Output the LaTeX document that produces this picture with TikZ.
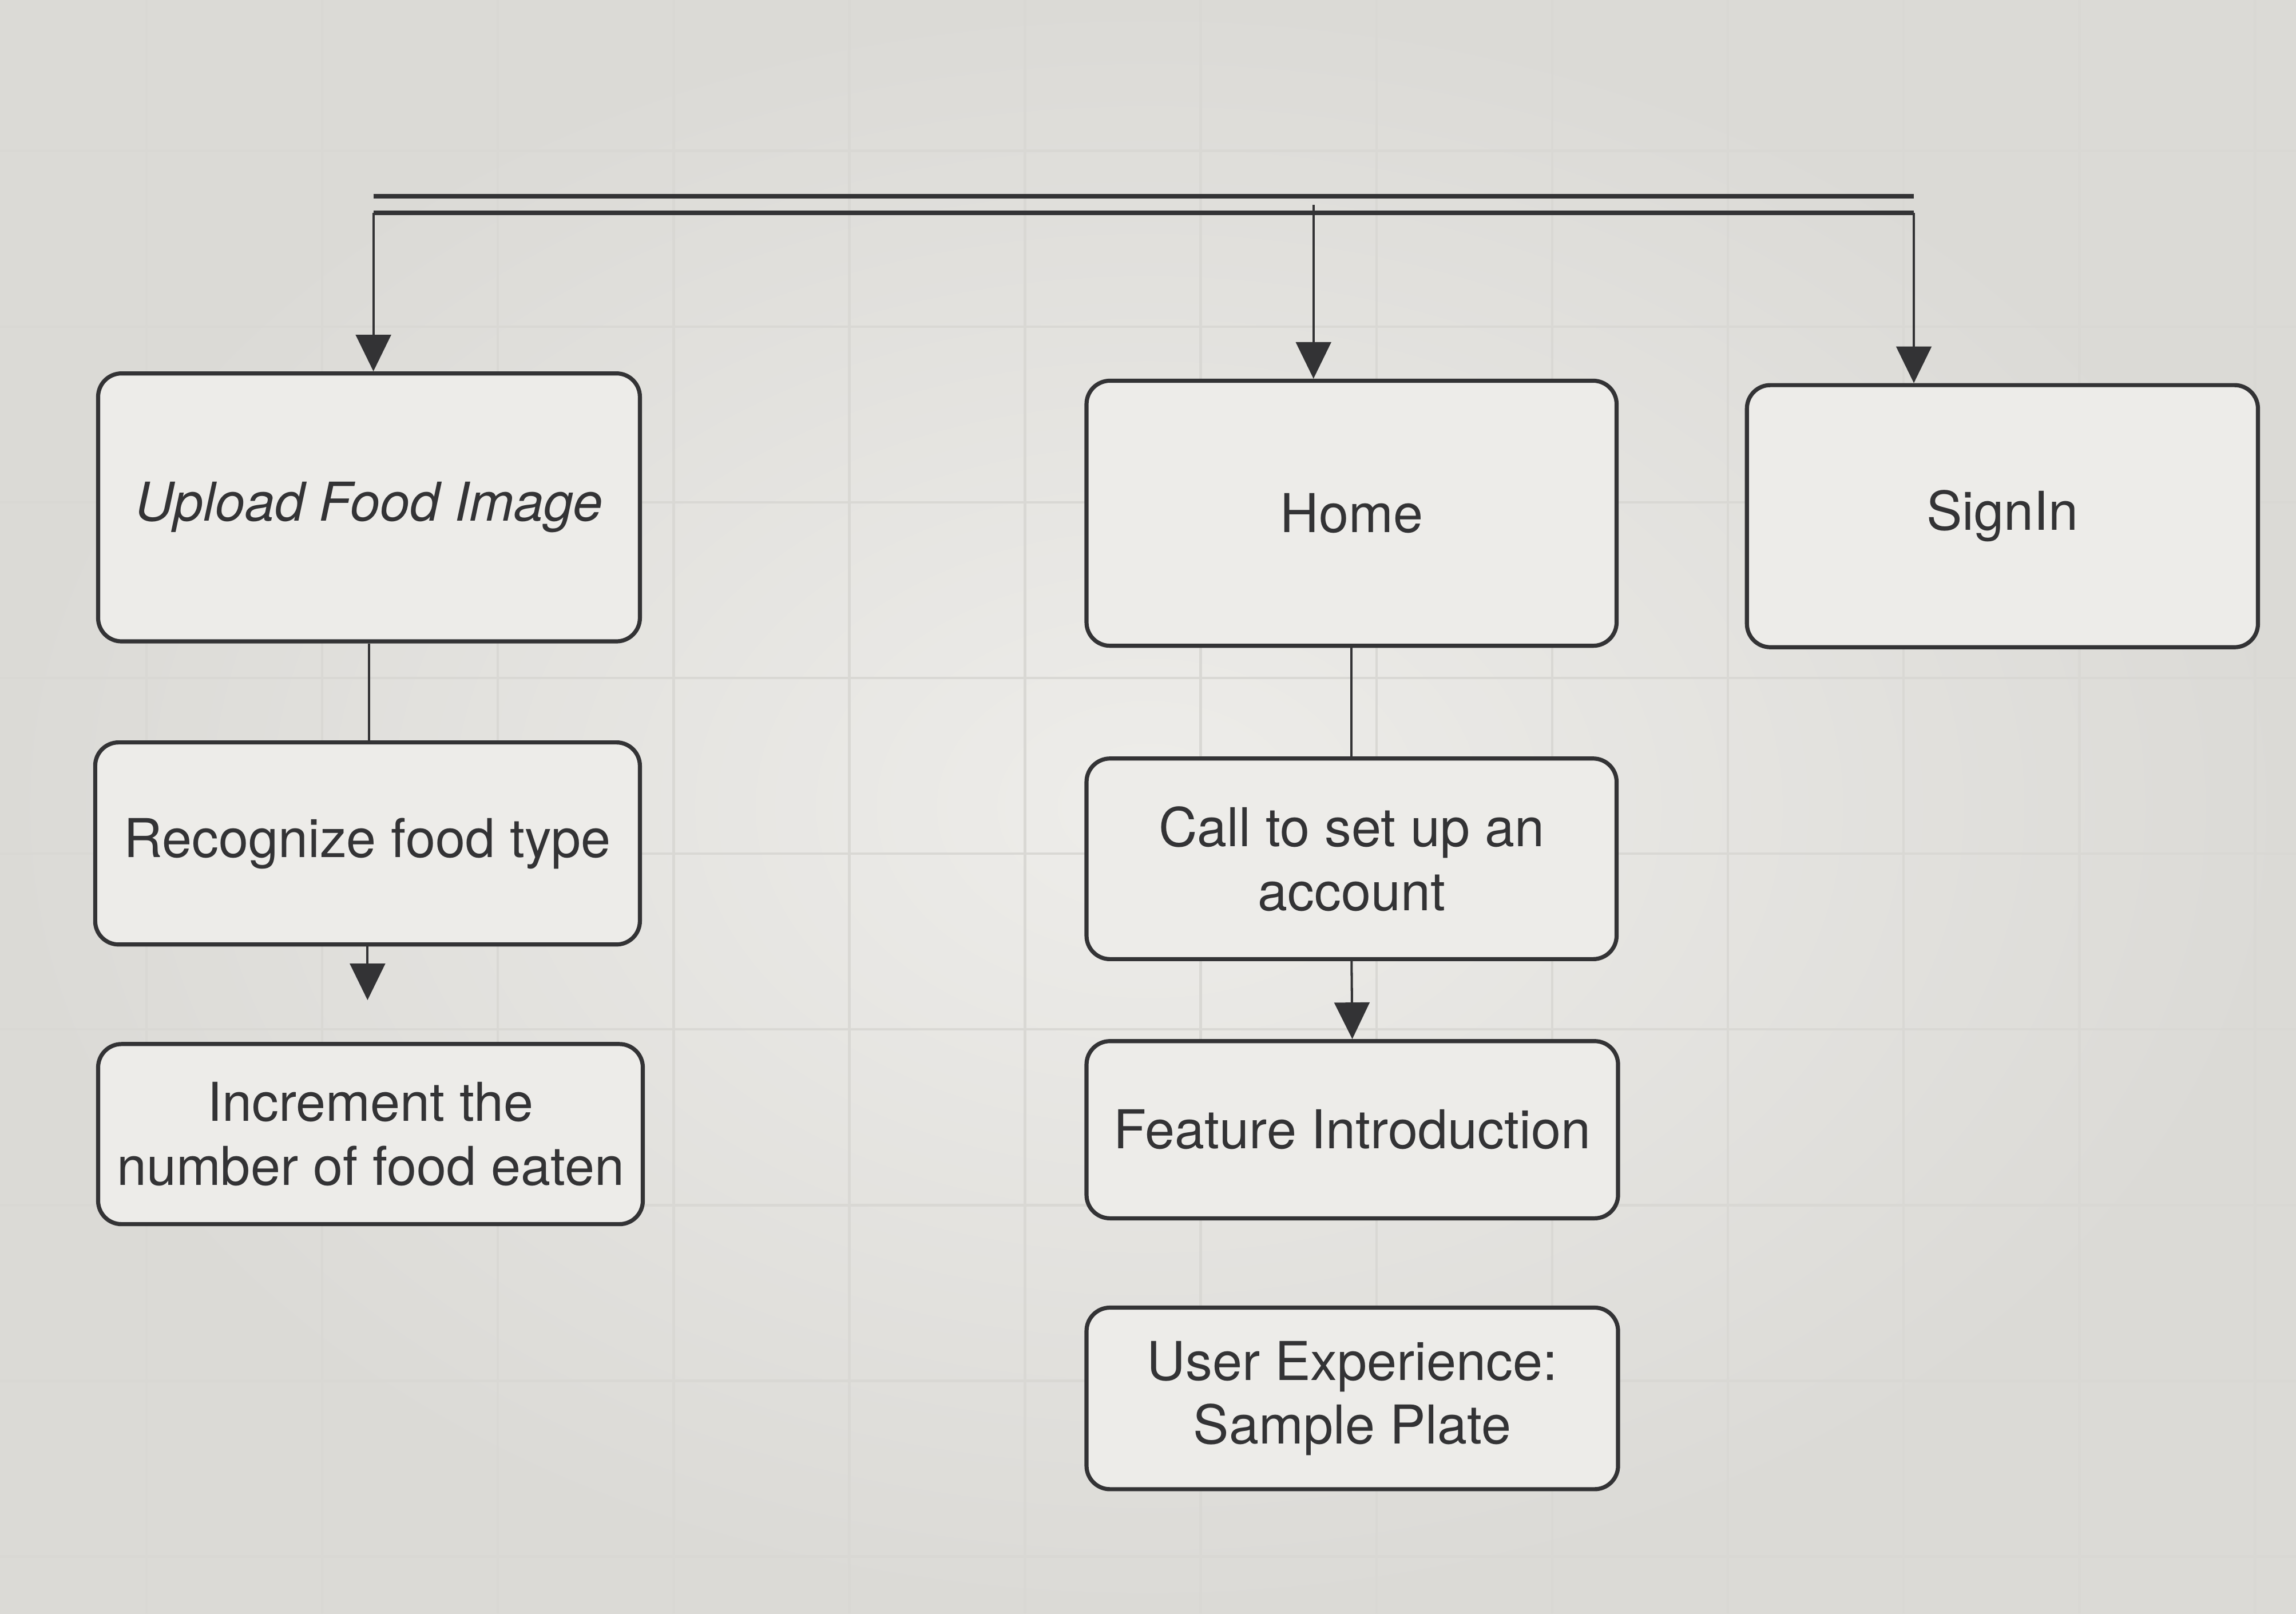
\documentclass[tikz,border=0pt]{standalone}
\usepackage{fontspec}
\setmainfont{TeX Gyre Heros}
\usetikzlibrary{arrows.meta}
\definecolor{canvasin}{HTML}{EEEDEA}
\definecolor{canvasout}{HTML}{DBDAD6}
\definecolor{boxfill}{HTML}{EDECE9}
\definecolor{gridline}{HTML}{D9D8D4}
\definecolor{ink}{HTML}{333335}
\tikzset{
  box/.style={draw=ink, line width=0.8pt, rounded corners=0.16cm,
              fill=boxfill, text=ink, align=center, inner sep=0pt,
              font=\fontsize{10.4}{12.4}\selectfont},
  link/.style={draw=ink, line width=0.45pt},
  flow/.style={link, -{Triangle[width=0.24cm,length=0.25cm]}},
  rail/.style={draw=ink, line width=0.9pt}
}

\begin{document}
\begin{tikzpicture}
\useasboundingbox (0,0) rectangle (15.68,-11.02);
\shade[inner color=canvasin, outer color=canvasout] (0,0) rectangle (15.68,-11.02);
\foreach \gx in {1.0,2.2,...,15.4}
  \draw[gridline, line width=0.5pt] (\gx,0) -- (\gx,-11.02);
\foreach \gy in {-1.03,-2.23,...,-10.9}
  \draw[gridline, line width=0.5pt] (0,\gy) -- (15.68,\gy);

\node[box, minimum width=3.70cm, minimum height=1.83cm,
      font=\fontsize{10.4}{12.4}\selectfont\itshape]
      (upload) at (2.52,-3.465) {Upload Food Image};
\node[box, minimum width=3.62cm, minimum height=1.81cm]
      (home) at (9.23,-3.505) {Home};
\node[box, minimum width=3.49cm, minimum height=1.79cm]
      (signin) at (13.675,-3.525) {SignIn};
\node[box, minimum width=3.72cm, minimum height=1.38cm]
      (recognize) at (2.51,-5.76) {Recognize food type};
\node[box, minimum width=3.62cm, minimum height=1.37cm]
      (setup) at (9.23,-5.865) {Call to set up an\\account};
\node[box, minimum width=3.72cm, minimum height=1.23cm]
      (increment) at (2.53,-7.745) {Increment the\\number of food eaten};
\node[box, minimum width=3.63cm, minimum height=1.21cm]
      (feature) at (9.235,-7.715) {Feature Introduction};
\node[box, minimum width=3.63cm, minimum height=1.24cm]
      (sample) at (9.235,-9.55) {User Experience:\\Sample Plate};

\coordinate (topL) at (2.55,-1.34);
\coordinate (topR) at (13.07,-1.34);
\coordinate (forkL) at (2.55,-1.455);
\coordinate (forkR) at (13.07,-1.455);
\coordinate (forkM) at (8.97,-1.40);
\coordinate (looseend) at (2.51,-6.83);

\draw[rail] (topL) -- (topR);
\draw[rail] (forkL) -- (forkR);
\draw[flow] (forkL) -- (forkL |- upload.north);
\draw[flow] (forkM) -- (forkM |- home.north);
\draw[flow] (forkR) -- (forkR |- signin.north);
\draw[link] (upload.south) -- (upload.south |- recognize.north);
\draw[flow] (recognize.south) -- (looseend);
\draw[link] (home.south) -- (setup.north);
\draw[flow] (setup.south) -- (feature.north);
\end{tikzpicture}
\end{document}
